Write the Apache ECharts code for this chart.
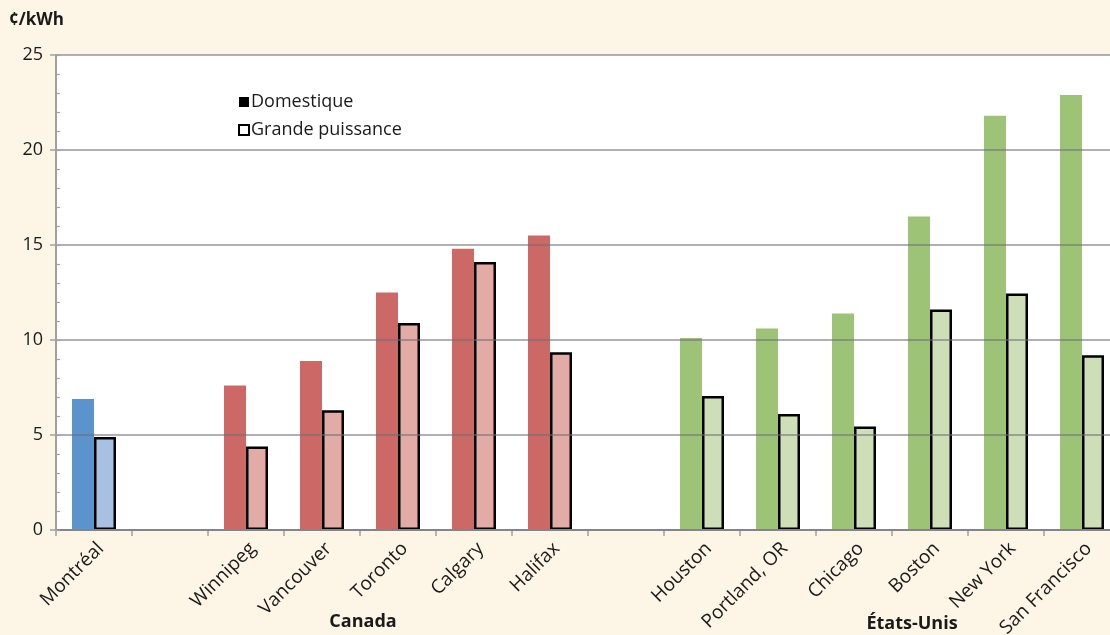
<!DOCTYPE html>
<html>
<head>
<meta charset="utf-8">
<script src="https://cdn.jsdelivr.net/npm/echarts@6/dist/echarts.min.js"></script>
<style>
html,body{margin:0;padding:0;background:#FDF6E7;}
#c{width:1110px;height:635px;}
</style>
</head>
<body>
<div id="c"></div>
<script>
// ---- data ----
const categories = ['Montréal', '', 'Winnipeg', 'Vancouver', 'Toronto', 'Calgary', 'Halifax', '',
  'Houston', 'Portland, OR', 'Chicago', 'Boston', 'New York', 'San Francisco'];
const groups = ['qc', null, 'ca', 'ca', 'ca', 'ca', 'ca', null, 'us', 'us', 'us', 'us', 'us', 'us'];
const domestique = [6.9, null, 7.6, 8.9, 12.5, 14.8, 15.5, null, 10.1, 10.6, 11.4, 16.5, 21.8, 22.9];
const grandePuissance = [4.9, null, 4.4, 6.3, 10.9, 14.1, 9.35, null, 7.05, 6.1, 5.45, 11.6, 12.45, 9.2];
const seriesNames = ['Domestique', 'Grande puissance'];
const yTicks = [0, 5, 10, 15, 20, 25];
const unitLabel = '¢/kWh';
const groupLabels = ['Canada', 'États-Unis'];

// ---- styles ----
const darkColors = {qc: '#5B93CC', ca: '#CC6866', us: '#9DC377'};
const lightColors = {qc: '#A8C0E2', ca: '#E3ABA6', us: '#CEDFB7'};
const FONT = '"Open Sans", "Noto Sans", sans-serif';
const TXT = '#1a1a1a';

const darkData = domestique.map((v, i) => v == null ? null : {value: v, itemStyle: {color: darkColors[groups[i]]}});
const lightData = grandePuissance.map((v, i) => v == null ? null : {value: v, itemStyle: {color: lightColors[groups[i]]}});

const chart = echarts.init(document.getElementById('c'), null, {renderer: 'canvas'});
chart.setOption({
  backgroundColor: '#FDF6E7',
  animation: false,
  textStyle: {fontFamily: FONT, color: TXT},
  grid: {left: 56, top: 55, width: 1064, height: 475, show: true, backgroundColor: '#ffffff', borderWidth: 0,
    containLabel: false, outerBoundsMode: 'none'},
  legend: {
    orient: 'vertical', left: 233, top: 88, itemGap: 10, itemWidth: 10, itemHeight: 10,
    icon: 'rect',
    textStyle: {fontFamily: FONT, fontSize: 18, color: TXT, padding: [0, 0, 0, -3]},
    data: seriesNames
  },
  xAxis: {
    type: 'category', data: categories,
    axisLine: {lineStyle: {color: '#A0A0A6', width: 2}},
    axisTick: {show: true, length: 6, lineStyle: {color: '#A0A0A6', width: 1.5}, alignWithLabel: false},
    axisLabel: {rotate: 45, interval: 0, fontSize: 19, color: TXT, fontFamily: FONT, margin: 9,
      verticalAlign: 'top'},
    z: 3
  },
  yAxis: [{
    type: 'value', min: 0, max: 25, interval: 5,
    axisLine: {show: true, lineStyle: {color: '#A0A0A6', width: 2}},
    axisTick: {show: true, length: 6, lineStyle: {color: '#A0A0A6', width: 1.5}},
    axisLabel: {fontSize: 18, color: TXT, fontFamily: FONT, margin: 13,
      formatter: v => yTicks.includes(v) ? String(v) : ''},
    splitLine: {show: true, lineStyle: {color: 'rgba(110,110,120,0.55)', width: 2}},
    z: 5
  }, {
    type: 'value', min: 0, max: 25, interval: 1, position: 'left',
    axisLine: {show: false},
    axisTick: {show: true, inside: true, length: 4, lineStyle: {color: '#A0A0A6', width: 1.2}},
    axisLabel: {show: false},
    splitLine: {show: false},
    z: 5
  }],
  graphic: [
    {type: 'text', left: 9, top: 12, style: {text: unitLabel, font: 'bold 17px ' + FONT, fill: TXT}},
    {type: 'text', x: 363, y: 622, style: {text: groupLabels[0], font: 'bold 18px ' + FONT, fill: TXT, align: 'center', verticalAlign: 'middle'}},
    {type: 'text', x: 912, y: 624, style: {text: groupLabels[1], font: 'bold 18px ' + FONT, fill: TXT, align: 'center', verticalAlign: 'middle'}}
  ],
  series: [{
    name: seriesNames[0], type: 'bar', data: darkData, barWidth: 22, barGap: '0%',
    itemStyle: {color: '#000000'}, z: 2
  }, {
    name: seriesNames[1], type: 'bar', data: lightData, barWidth: 22, barGap: '0%',
    itemStyle: {color: '#ffffff', borderColor: '#000000', borderWidth: 2.5}, z: 2
  }]
});
</script>
</body>
</html>
